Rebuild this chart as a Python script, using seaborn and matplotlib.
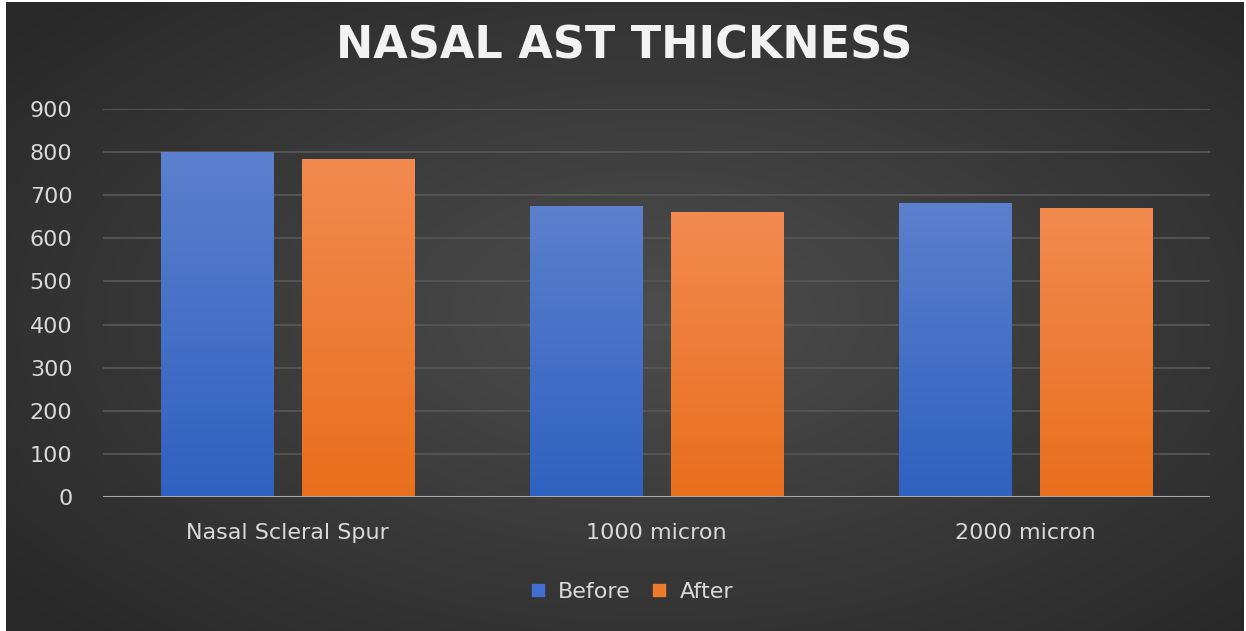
import numpy as np
import pandas as pd
import matplotlib
matplotlib.use("Agg")
import matplotlib.pyplot as plt
from matplotlib.colors import LinearSegmentedColormap, to_rgb
from matplotlib.lines import Line2D
import seaborn as sns

# Data
categories = ["Nasal Scleral Spur", "1000 micron", "2000 micron"]
before = [798, 675, 680]
after = [783, 661, 670]
series_names = ["Before", "After"]
y_ticks = [0, 100, 200, 300, 400, 500, 600, 700, 800, 900]

df = pd.DataFrame({
    "Location": categories * 2,
    "Thickness": before + after,
    "Time": [series_names[0]] * len(categories) + [series_names[1]] * len(categories),
})

sns.set_theme(style="dark")
plt.rcParams["font.family"] = ["DejaVu Sans"]

W, H = 1246, 631
fig = plt.figure(figsize=(W / 100, H / 100), dpi=100, facecolor="white")

# Dark radial-gradient backdrop inside a thin white frame
bg_ax = fig.add_axes([6 / W, 0, (1244 - 6) / W, (H - 2) / H])
bg_ax.set_axis_off()
yy, xx = np.mgrid[-1:1:300j, -1:1:600j]
r = np.sqrt(((xx - 0.05) * 0.95) ** 2 + (yy * 0.9) ** 2)
r = np.clip(r / 1.3, 0, 1)
c_in, c_out = np.array(to_rgb("#4d4d4d")), np.array(to_rgb("#282828"))
img = c_in[None, None, :] * (1 - r[..., None]) + c_out[None, None, :] * r[..., None]
bg_ax.imshow(img, aspect="auto", extent=[0, 1, 0, 1])
bg_ax.set_xlim(0, 1)
bg_ax.set_ylim(0, 1)

# Plot area
left, right = 103 / W, 1210 / W
bottom, top = (H - 497) / H, (H - 109) / H
ax = fig.add_axes([left, bottom, right - left, top - bottom])
ax.patch.set_alpha(0)

palette = {"Before": "#4472c4", "After": "#ed7d31"}
sns.barplot(data=df, x="Location", y="Thickness", hue="Time", order=categories,
            hue_order=series_names, palette=palette, width=0.764, gap=0.2,
            legend=False, ax=ax, zorder=3, linewidth=0)

# Vertical gradient fills over each bar
grad_colors = {
    "Before": ("#2f61c0", "#5b80cd"),
    "After": ("#e86f1c", "#f28a50"),
}
n_cat = len(categories)
for i, patch in enumerate(ax.patches):
    name = series_names[i // n_cat]
    cmap = LinearSegmentedColormap.from_list(name, grad_colors[name])
    x0, y0 = patch.get_x(), patch.get_y()
    w, h = patch.get_width(), patch.get_height()
    if h <= 0:
        continue
    grad = np.linspace(0, 1, 256)[:, None]
    ax.imshow(grad, cmap=cmap, aspect="auto", origin="lower",
              extent=[x0, x0 + w, y0, y0 + h], zorder=3.5)

ax.set_xlim(-0.5, n_cat - 0.5)
ax.set_ylim(0, 900)
ax.set_yticks(y_ticks)
ax.set_yticklabels([str(t) for t in y_ticks])

# Gridlines and baseline
ax.grid(False)
for t in y_ticks[1:]:
    ax.axhline(t, color="#565656", lw=1.3, zorder=1)
ax.axhline(0, color="#a9a9a9", lw=2.2, zorder=4)

for s in ax.spines.values():
    s.set_visible(False)

ax.tick_params(axis="y", length=0, pad=22, labelsize=16, labelcolor="#d9d9d9")
ax.tick_params(axis="x", length=0, pad=19, labelsize=16, labelcolor="#d9d9d9")
ax.set_xlabel("")
ax.set_ylabel("")

# Title
fig.text(624 / W, 1 - 46 / H, "NASAL AST THICKNESS", ha="center", va="center",
         fontsize=32, fontweight="bold", color="#f2f2f2")

# Legend
handles = [Line2D([], [], linestyle="none", marker="s", markersize=8,
                  markerfacecolor=c, markeredgecolor=c)
           for c in ("#3f6fd0", "#ee7a2c")]
fig.legend(handles, series_names, loc="center", bbox_to_anchor=(631 / W, 1 - 592 / H),
           ncol=2, frameon=False, fontsize=16, labelcolor="#d9d9d9",
           handletextpad=0.5, columnspacing=0.9, handlelength=0.8)

fig.savefig("out.png", dpi=100, facecolor="white")
